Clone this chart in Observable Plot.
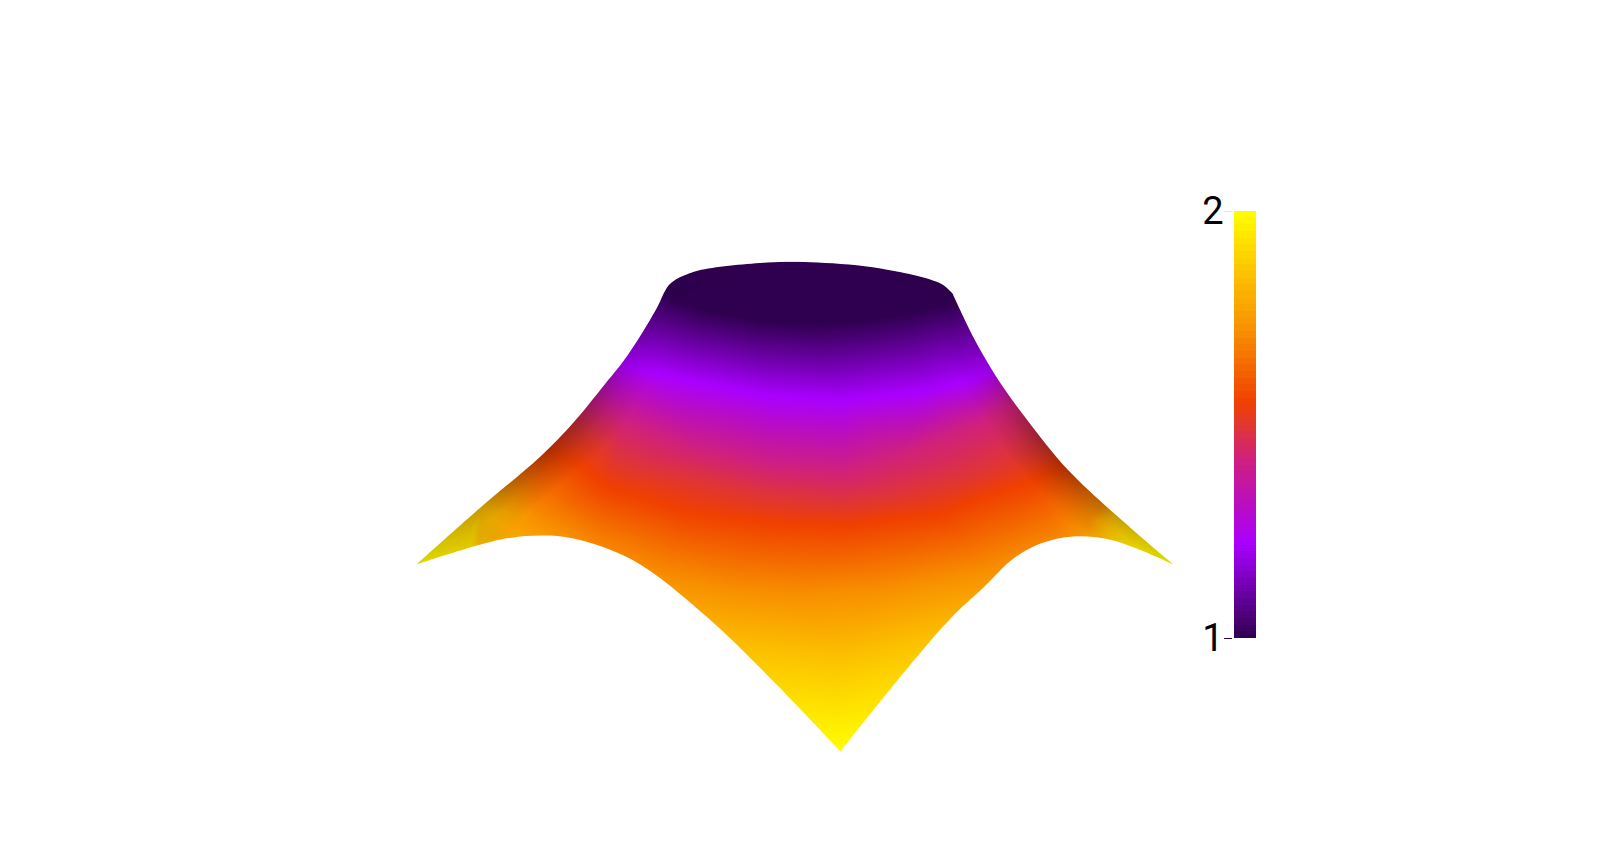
<!DOCTYPE html>
<html>
<head>
<meta charset="utf-8">
<script src="https://cdn.jsdelivr.net/npm/d3@7"></script>
<script src="https://cdn.jsdelivr.net/npm/@observablehq/plot@0.6"></script>
<style>
html,body{margin:0;padding:0;background:#fff;overflow:hidden}
#stage{position:relative;width:1613px;height:862px}
#stage svg{position:absolute;left:0;top:0;background:transparent}
</style>
</head>
<body>
<div id="stage"></div>
<script>
// Colormap
const colorStops = [1, 1.22, 1.33, 1.42, 1.495, 1.55, 1.72, 1.85, 2];
const colorRamp = ["#2f004f", "#aa00ff", "#bd10b5", "#d0207f", "#e03535", "#f04000", "#f89000", "#fcc000", "#ffff00"];
const colorBarTicks = [1, 2];
const colorBarBands = 64;

// Silhouette of the surface (image coordinates)
const leftSilhouette = [[416,564],[480,507],[540,456],[573,422],[605,383],[627,355],[655,310],[668,285],[677,278]];
const capEdge = [[677,278],[698,270],[767,262],[817,262],[880,268],[940,283],[952,293]];
const rightSilhouette = [[952,293],[973,337],[990,367],[1007,393],[1027,420],[1067,469],[1133,530],[1173,564]];
const lowerRightEdge = [[1173,564],[1113,540],[1073,536],[1040,543],[1013,558],[983,587],[950,618],[883,697],[840,751]];
const lowerLeftEdge = [[840,751],[777,685],[707,617],[633,560],[573,538],[540,535],[500,539],[416,564]];

// Curves of equal value on the surface
const isoValues = [1, 1.22, 1.42, 1.495, 1.55, 1.72, 1.85, 1.93, 2];
const isoCurves = [
  [[640,255],[810,245],[975,255],[660,290],[673,298],[707,310],[757,319],[807,323],[857,320],[907,313],[947,303],[962,295]],
  [[615,362],[657,373],[693,381],[767,395],[840,400],[927,390],[970,380],[995,368]],
  [[590,405],[623,420],[693,447],[770,465],[840,470],[900,452],[977,423],[1020,400]],
  [[570,425],[603,443],[693,480],[770,497],[840,503],[900,495],[967,477],[1027,452],[1050,440]],
  [[545,450],[577,463],[607,487],[683,510],[770,522],[850,525],[940,513],[1033,480],[1065,463]],
  [[505,485],[533,517],[600,555],[660,577],[730,590],[800,595],[880,590],[993,570],[1060,545],[1087,523],[1110,498]],
  [[480,507],[478,545],[740,648],[840,656],[933,637],[1105,542],[1113,515]],
  [[447,537],[470,547],[1140,535],[1125,545]],
  [[416,564],[405,575],[1173,564],[1185,575],[840,752],[840,770]]
];

// Dimming near the silhouette: [x, y, opacity of the black overlay]
const shadeSamples = [
  [405,570,.14],[417,563,.14],[480,507,.2],[510,480,.28],[540,453,.3],[570,425,.3],[590,403,.25],[607,380,.2],[625,355,.12],[640,333,.06],[660,300,.03],
  [460,548,.12],[500,539,.05],[470,530,.14],[445,545,.15],
  [492,518,.08],[522,492,.12],[552,466,.13],[582,440,.13],[605,416,.1],[623,388,.07],[640,362,.04],[655,336,.02],
  [512,530,0],[535,505,0],[565,480,0],[595,455,0],[620,430,0],[640,395,0],[655,370,0],[670,340,0],[690,310,0],
  [1185,570,.14],[1172,563,.14],[1133,530,.18],[1100,502,.24],[1067,467,.3],[1040,437,.3],[1017,405,.22],[1000,380,.15],[980,347,.08],[957,300,.03],
  [1133,545,.1],[1090,537,.03],[1140,540,.15],[1110,530,.08],
  [1121,535,.1],[1087,515,.09],[1054,481,.12],[1026,450,.12],[1002,415,.08],[985,388,.05],[965,353,.03],
  [1075,528,0],[1042,495,0],[1012,462,0],[988,425,0],[970,397,0],[950,360,0],[930,310,0],
  [800,500,0],[840,760,0],[810,250,0]
];

const valueSamples = isoCurves.flatMap((curve, i) => curve.map(([x, y]) => ({x, y, v: isoValues[i]})));
const shadeTable = shadeSamples.map(([x, y, a]) => ({x, y, a}));
const bands = d3.range(colorBarBands).map(i => 1 + i / colorBarBands);
const colorOptions = {type: "linear", domain: colorStops, range: colorRamp, clamp: true};

let clipCount = 0;
function clipToSurface(index, scales, values, dimensions, context, next) {
  const g = next(index, scales, values, dimensions, context);
  const id = "surface-clip-" + (++clipCount);
  const edge = d3.line().x(d => scales.x(d[0])).y(d => scales.y(d[1])).curve(d3.curveCatmullRom.alpha(0.5));
  const outline = [leftSilhouette, capEdge, rightSilhouette, lowerRightEdge, lowerLeftEdge]
    .map((segment, i) => (i ? "L" + edge(segment).slice(1) : edge(segment))).join("") + "Z";
  const clip = d3.create("svg:clipPath").attr("id", id);
  clip.append("path").attr("d", outline);
  g.appendChild(clip.node());
  g.setAttribute("clip-path", `url(#${id})`);
  return g;
}

const surface = Plot.plot({
  width: 1613, height: 862,
  margin: 0,
  x: {domain: [0, 1613], range: [0, 1613], axis: null},
  y: {domain: [0, 862], range: [0, 862], axis: null},
  color: colorOptions,
  opacity: {domain: [0, 1], range: [0, 1]},
  marks: [
    Plot.raster(valueSamples, {x: "x", y: "y", fill: "v", interpolate: "barycentric", pixelSize: 1, imageRendering: "auto", render: clipToSurface}),
    Plot.raster(shadeTable, {x: "x", y: "y", fill: "black", fillOpacity: "a", interpolate: "barycentric", pixelSize: 1, render: clipToSurface})
  ]
});

const colorBar = Plot.plot({
  width: 1613, height: 862,
  marginLeft: 1234, marginRight: 357, marginTop: 211, marginBottom: 224,
  x: {domain: [0, 1], axis: null},
  y: {domain: [1, 2], axis: null},
  color: colorOptions,
  marks: [
    Plot.rect(bands, {x1: 0, x2: 1, y1: d => d, y2: d => d + 1 / colorBarBands, fill: d => d + 0.5 / colorBarBands, shapeRendering: "crispEdges"}),
    Plot.ruleY(colorBarTicks, {x1: -0.45, x2: -0.09, stroke: d => d, strokeWidth: 1}),
    Plot.axisY(colorBarTicks, {anchor: "left", tickSize: 0, tickPadding: 11, tickFormat: d => String(d), fontSize: 38, fontWeight: 400, fontFamily: "Roboto", fill: "#000", label: null})
  ]
});

const stage = document.getElementById("stage");
stage.appendChild(surface);
stage.appendChild(colorBar);
</script>
</body>
</html>
